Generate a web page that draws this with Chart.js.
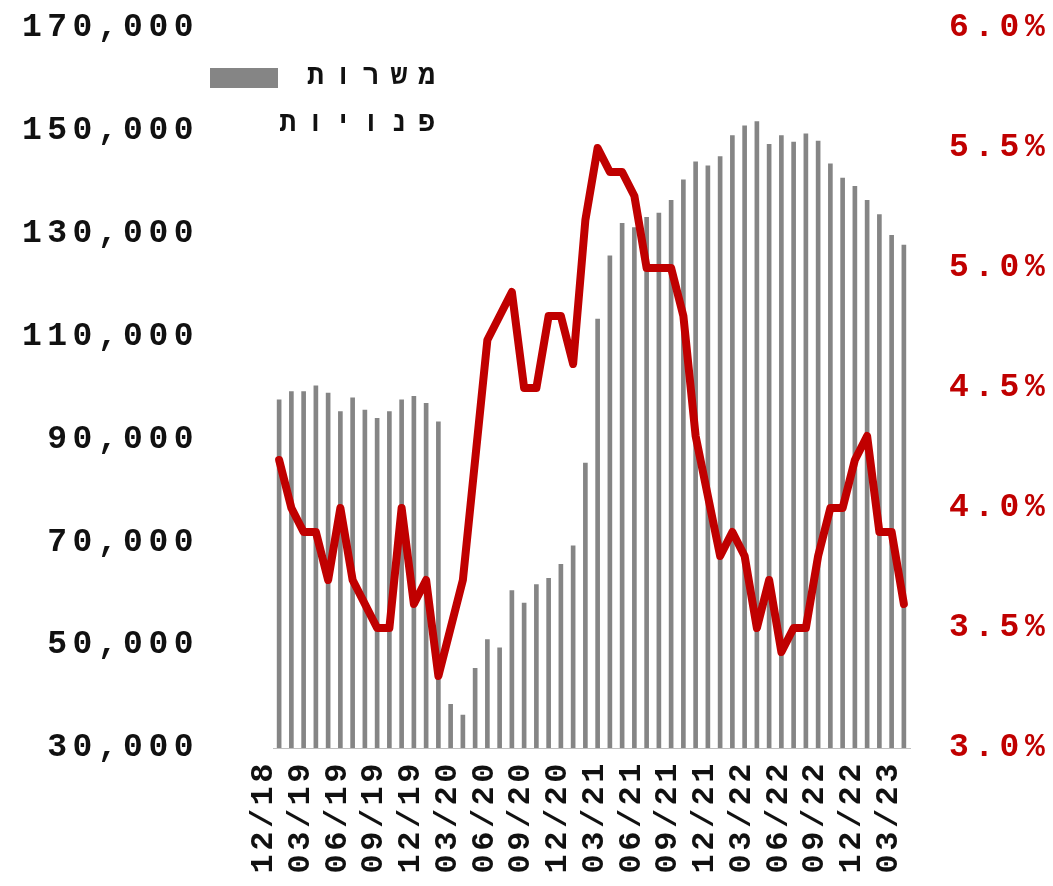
<!DOCTYPE html>
<html>
<head>
<meta charset="utf-8">
<script src="https://cdn.jsdelivr.net/npm/chart.js@4"></script>
<style>
  html, body { margin: 0; padding: 0; background: #ffffff; }
  #wrap { width: 1053px; height: 886px; }
</style>
</head>
<body>
<div id="wrap"><canvas id="chart" width="1053" height="886"></canvas></div>
<script>
// Months on the category axis (monthly, 12/18 .. 03/23)
const months = [
  "12/18",
  "01/19", "02/19", "03/19", "04/19", "05/19", "06/19", "07/19", "08/19", "09/19", "10/19", "11/19", "12/19",
  "01/20", "02/20", "03/20", "04/20", "05/20", "06/20", "07/20", "08/20", "09/20", "10/20", "11/20", "12/20",
  "01/21", "02/21", "03/21", "04/21", "05/21", "06/21", "07/21", "08/21", "09/21", "10/21", "11/21", "12/21",
  "01/22", "02/22", "03/22", "04/22", "05/22", "06/22", "07/22", "08/22", "09/22", "10/22", "11/22", "12/22",
  "01/23", "02/23", "03/23"
];

// Job vacancies (left axis)
const vacancies = [
  97700,
  99300, 99300, 100400, 99000, 95400, 98100, 95700, 94100, 95400, 97700, 98400, 97000,
  93400, 38500, 36400, 45500, 51100, 49500, 60600, 58200, 61800, 63000, 65700, 69300,
  85400, 113400, 125700, 132000, 131200, 133200, 134000, 136500, 140500, 144000, 143200, 145000,
  149100, 151000, 151800, 147400, 149100, 147800, 149400, 148000, 143600, 140800, 139200, 136500,
  133700, 129700, 127800
];

// Rate in percent (right axis)
const rate = [
  4.2,
  4.0, 3.9, 3.9, 3.7, 4.0, 3.7, 3.6, 3.5, 3.5, 4.0, 3.6, 3.7,
  3.3, 3.5, 3.7, 4.2, 4.7, 4.8, 4.9, 4.5, 4.5, 4.8, 4.8, 4.6,
  5.2, 5.5, 5.4, 5.4, 5.3, 5.0, 5.0, 5.0, 4.8, 4.3, 4.05, 3.8,
  3.9, 3.8, 3.5, 3.7, 3.4, 3.5, 3.5, 3.8, 4.0, 4.0, 4.2, 4.3,
  3.9, 3.9, 3.6
];

const leftTicks = [30000, 50000, 70000, 90000, 110000, 130000, 150000, 170000];
const rightTicks = [3.0, 3.5, 4.0, 4.5, 5.0, 5.5, 6.0];
const barLabel = "משרות פנויות";

const RED = "#C00000";
const GREY = "#858585";
const MONO = '"Liberation Mono", "Courier New", "DejaVu Sans Mono", monospace';

// Draws the tick labels (letter-spaced, rotated) and the legend
const axisText = {
  id: "axisText",
  afterDraw(chart) {
    const { ctx, scales } = chart;
    ctx.save();
    ctx.font = "bold 33px " + MONO;
    ctx.textBaseline = "middle";

    // left axis
    ctx.letterSpacing = "5.5px";
    ctx.fillStyle = "#111111";
    ctx.textAlign = "right";
    leftTicks.forEach((v) => {
      ctx.fillText(v.toLocaleString("en-US"), 199, scales.y.getPixelForValue(v));
    });

    // right axis
    ctx.fillStyle = RED;
    ctx.textAlign = "left";
    rightTicks.forEach((v) => {
      ctx.fillText(v.toFixed(1) + "%", 949, scales.y2.getPixelForValue(v));
    });

    // category labels, every third month, reading bottom to top
    ctx.font = "bold 32px " + MONO;
    ctx.letterSpacing = "3.5px";
    ctx.fillStyle = "#111111";
    months.forEach((m, i) => {
      if (i % 3 !== 0) return;
      const x = scales.x.getPixelForValue(i) - 15;
      ctx.save();
      ctx.translate(x, scales.x.bottom + 4);
      ctx.rotate(-Math.PI / 2);
      ctx.textAlign = "right";
      ctx.fillText(m, 0, 0);
      ctx.restore();
    });

    // legend
    ctx.fillStyle = GREY;
    ctx.fillRect(210, 68, 68, 20);
    ctx.fillStyle = "#111111";
    ctx.font = "bold 28px " + MONO;
    ctx.letterSpacing = "11px";
    ctx.direction = "rtl";
    ctx.textAlign = "right";
    const words = barLabel.split(" ");
    ctx.fillText(words[0], 446, 77);
    ctx.fillText(words[1], 446, 124);
    ctx.restore();
  },
};

new Chart(document.getElementById("chart"), {
  data: {
    labels: months,
    datasets: [
      {
        type: "line",
        label: "שיעור",
        data: rate,
        yAxisID: "y2",
        borderColor: RED,
        borderWidth: 8,
        pointRadius: 0,
        tension: 0,
        borderJoinStyle: "round",
        borderCapStyle: "round",
        order: 0,
      },
      {
        type: "bar",
        label: barLabel,
        data: vacancies,
        yAxisID: "y",
        backgroundColor: GREY,
        barThickness: 4,
        order: 1,
      },
    ],
  },
  options: {
    responsive: false,
    animation: false,
    events: [],
    layout: { padding: { left: 273, right: 143, top: 28, bottom: 130 } },
    plugins: {
      legend: { display: false },
      tooltip: { enabled: false },
    },
    scales: {
      x: {
        display: true,
        grid: { display: false },
        ticks: { display: false },
        border: { display: true, color: "#bfbfbf", width: 1 },
      },
      y: {
        display: false,
        position: "left",
        min: 30000,
        max: 170000,
      },
      y2: {
        display: false,
        position: "right",
        min: 3.0,
        max: 6.0,
      },
    },
  },
  plugins: [axisText],
});
</script>
</body>
</html>
